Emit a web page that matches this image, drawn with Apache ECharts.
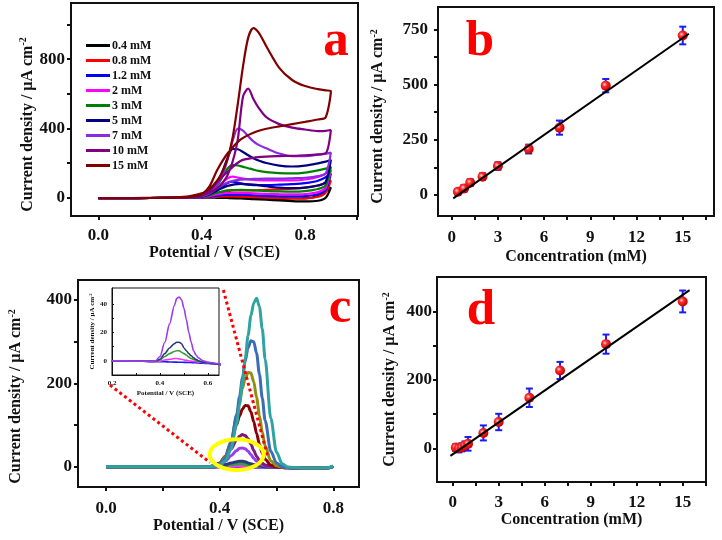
<!DOCTYPE html>
<html><head><meta charset="utf-8">
<script src="https://cdn.jsdelivr.net/npm/echarts@6/dist/echarts.min.js"></script>
<style>html,body{margin:0;padding:0;background:#fff}#c{width:722px;height:540px}</style>
</head><body><div id="c"></div>
<script>
// ================= DATA =================
// Panel a : cyclic voltammograms
const cvNames = ['0.4 mM','0.8 mM','1.2 mM','2 mM','3 mM','5 mM','7 mM','10 mM','15 mM'];
const cvColors = ['#000000','#ff0000','#0000ff','#ff00ff','#008000','#000080','#8a2be2','#800080','#800000'];
const cvFwdX = [0, 0.1, 0.2, 0.3, 0.35, 0.4, 0.43, 0.46, 0.5, 0.55, 0.6, 0.65, 0.7, 0.75, 0.8, 0.85, 0.88, 0.9];
const cvRevX = [0.9, 0.88, 0.85, 0.8, 0.75, 0.7, 0.65, 0.62, 0.6, 0.58, 0.56, 0.54, 0.52, 0.5, 0.48, 0.46, 0.43, 0.4, 0.35, 0.3, 0.2, 0.1, 0];
const cvFwd04 = [-3,-3,-2,-2,-1,0,0,-1,-2,-4,-8,-12,-16,-20,-22,-18,0,60];
const cvFwd08 = [-3,-3,-2,-2,-1,1,3,5,7,6,3,0,-3,-5,-5,5,30,100];
const cvFwd12 = [-3,-3,-2,-2,-1,2,6,11,17,17,14,10,8,7,9,20,45,140];
const cvFwd2  = [-3,-3,-2,-1,0,3,9,19,27,28,25,22,20,19,21,32,58,160];
const cvFwd3  = [-3,-3,-2,-1,0,4,13,28,42,45,42,38,36,35,38,50,72,179];
const cvFwd5  = [-3,-3,-2,-1,1,6,19,42,68,80,75,66,58,55,58,70,92,218];
const cvFwd7  = [-3,-3,-2,-1,1,8,24,55,88,104,108,110,110,112,115,125,140,260];
const cvFwd10 = [-3,-3,-2,-1,2,12,40,90,150,212,230,237,240,242,245,250,256,391];
const cvFwd15 = [-3,-3,-2,0,4,20,65,160,255,335,375,398,412,425,438,452,465,617];
const cvRev04 = [60,35,10,-4,-5,-3,-1,0,1,3,5,7,8,8,6,4,2,1,0,-1,-2,-3,-3];
const cvRev08 = [100,85,70,58,52,48,45,43,42,42,42,42,42,38,30,20,8,3,1,0,-2,-3,-3];
const cvRev12 = [140,118,98,84,78,75,73,73,73,75,80,87,92,85,65,40,15,5,1,0,-2,-3,-3];
const cvRev2  = [160,140,120,105,100,100,100,101,103,106,110,116,121,112,85,50,20,6,1,0,-2,-3,-3];
const cvRev3  = [179,168,158,145,140,142,148,155,162,170,178,186,189,168,120,70,30,8,2,0,-2,-3,-3];
const cvRev5  = [218,208,198,185,180,185,200,215,228,245,264,280,282,230,150,85,35,10,2,0,-2,-3,-3];
const cvRev7  = [260,254,248,240,240,255,285,305,325,355,388,399,330,220,130,75,35,12,3,0,-2,-3,-3];
const cvRev10 = [391,386,385,394,405,425,465,520,570,630,585,340,210,130,85,55,28,13,3,0,-2,-3,-3];
const cvRev15 = [617,620,627,645,680,750,875,955,980,925,760,545,350,225,150,100,50,25,8,2,-1,-3,-3];
const cvFwd = [cvFwd04,cvFwd08,cvFwd12,cvFwd2,cvFwd3,cvFwd5,cvFwd7,cvFwd10,cvFwd15];
const cvRev = [cvRev04,cvRev08,cvRev12,cvRev2,cvRev3,cvRev5,cvRev7,cvRev10,cvRev15];

// Panel b : calibration (CV)
const bConc = [0.4, 0.8, 1.2, 2, 3, 5, 7, 10, 15];
const bVal  = [15, 30, 56, 83, 131, 208, 305, 495, 722];
const bErr  = [12, 15, 15, 15, 17, 20, 32, 30, 40];
const bFitX = [0.1, 15.4];
const bFitY = [-15, 730];

// Panel c : DPV
const dpvX = [0, 0.1, 0.2, 0.3, 0.36, 0.38, 0.40, 0.42, 0.44, 0.46, 0.47, 0.48, 0.49, 0.50, 0.51, 0.52, 0.53, 0.54, 0.55, 0.56, 0.58, 0.60, 0.62, 0.64, 0.66, 0.70, 0.75, 0.78, 0.80];
const dpvBlue    = [0,0,0,-0.3,-0.5,-0.6,-0.7,-0.8,-0.9,-1,-1,-1.1,-1.1,-1.2,-1.2,-1.3,-1.3,-1.4,-1.5,-1.6,-1.8,-2,-2.2,-2.5,-2.8,-3,-3,-2.5,1];
const dpvMagenta = [0,0,0,-0.3,-0.5,-0.5,-0.3,0.5,1,1.5,1.5,1.2,1,0.5,0.2,0,-0.3,-0.5,-0.7,-1,-1.3,-1.6,-2,-2.4,-2.8,-3,-3,-2.5,1];
const dpvGreen   = [0,0,0,-0.3,-0.5,-0.5,0.5,3,5,6.5,7,7,6,5,4,2.5,1.5,1,0,-0.5,-1,-1.5,-2,-2.5,-3,-3,-3,-2.5,1];
const dpvNavy    = [0,0,0,-0.3,-0.5,-0.5,1,5,9,12,13,13,12,9,7,5,3.5,2,1,0,-1,-1.5,-2,-2.5,-3,-3.5,-3,-2.5,1];
const dpvViolet  = [0,0,0,-0.3,-0.5,-0.5,3,13,26,39,44,45,43,37,29,20,13,7,4,2,0,-1,-1.5,-2,-2.5,-3,-3,-2.5,1];
const dpvPurple  = [0,0,0,-0.3,-0.5,2,8,21,42,65,73,77,75,67,54,39,25,15,8,4,1,-1,-1.5,-2,-2.5,-3,-3,-2.5,1];
const dpvDarkRed = [0,0,0,-0.3,-0.5,2.4,9,25,58,101,122,138,147,146,132,108,80,54,33,18,4,0,-1.5,-2,-2.5,-3,-3,-2.5,1];
const dpvOlive   = [0,0,0,-0.3,-0.5,2,7,24,61,121,156,188,212,226,225,204,166,123,83,50,14,2,-1,-2,-2.5,-3,-3,-2.5,1];
const dpvSteel   = [0,0,0,-0.3,-0.5,1.4,6,21,58,125,168,212,253,285,302,300,272,222,165,111,37,9,0,-2,-2.5,-3,-3,-2.5,1];
const dpvTeal    = [0,0,0,-0.3,-0.5,1,4,14,42,103,149,202,259,315,362,393,404,384,331,258,116,35,7,-1,-2,-3,-3,-2.5,2];
const dpvCurves = [dpvBlue,dpvMagenta,dpvGreen,dpvNavy,dpvViolet,dpvPurple,dpvDarkRed,dpvOlive,dpvSteel,dpvTeal];
const dpvColors = ['#1a1aff','#ff33ff','#33a033','#2b3a80','#9a3cf0','#7d1a7d','#8b0000','#8f8f10','#3a6db5','#2ea3a0'];
const insetCurves = [dpvBlue,dpvMagenta,dpvGreen,dpvNavy,dpvViolet];
const insetColors = ['#1a1aff','#ff33ff','#33a033','#2b3a80','#9a3cf0'];
const zoomLine1 = [[0.014, 196], [0.366, 10]];
const zoomLine2 = [[0.413, 424], [0.57, 22]];
const zoomEllipse = [0.46, 29, 0.095, 37];

// Panel d : calibration (DPV)
const dConc = [0.2, 0.4, 0.6, 0.8, 1, 2, 3, 5, 7, 10, 15];
const dVal  = [2, 0, 3, 8, 13, 45, 77, 148, 228, 305, 430];
const dErr  = [10, 12, 12, 12, 20, 22, 24, 27, 25, 28, 32];
const dFitX = [-0.15, 15.45];
const dFitY = [-22, 463];

// Tick values
const aXTicks = [0, 0.2, 0.4, 0.6, 0.8, 1.0], aXLabels = [0, 0.4, 0.8];
const aYTicks = [0, 200, 400, 600, 800, 1000], aYLabels = [0, 400, 800];
const bXTicks = [0, 1.5, 3, 4.5, 6, 7.5, 9, 10.5, 12, 13.5, 15, 16.5], bXLabels = [0, 3, 6, 9, 12, 15];
const bYTicks = [0, 125, 250, 375, 500, 625, 750], bYLabels = [0, 250, 500, 750];
const cXTicks = [0, 0.2, 0.4, 0.6, 0.8], cXLabels = [0, 0.4, 0.8];
const cYTicks = [0, 100, 200, 300, 400], cYLabels = [0, 200, 400];
const dXTicks = [0, 1.5, 3, 4.5, 6, 7.5, 9, 10.5, 12, 13.5, 15, 16.5], dXLabels = [0, 3, 6, 9, 12, 15];
const dYTicks = [0, 100, 200, 300, 400], dYLabels = [0, 200, 400];
const iXTicks = [0.2, 0.3, 0.4, 0.5, 0.6], iXLabels = [0.2, 0.4, 0.6];
const iYTicks = [0, 10, 20, 30, 40], iYLabels = [0, 20, 40];

// ================= CHART =================
const FONT = "'Liberation Serif','Times New Roman',serif";
const INK = '#111';
const yTitle = '{t|Current density / μA cm}{s|-2}';
const fix1 = v => Number(v).toFixed(1);

function axis(grid, min, max, ticks, labels, o) {
  const nfs = o.nfs || 16;
  return {
    type: 'value', gridIndex: grid, min: min, max: max,
    axisLine: { show: true, onZero: false, lineStyle: { color: INK, width: o.lw || 2 } },
    axisTick: { show: true, inside: !!o.inside, length: o.tl || 4, customValues: ticks, lineStyle: { color: INK, width: o.lw || 2 } },
    axisLabel: { show: true, customValues: labels, margin: o.margin, fontFamily: FONT, fontWeight: 'bold',
      fontSize: o.fs || 17, color: INK, formatter: o.fmt },
    splitLine: { show: false },
    name: o.name, nameLocation: 'middle', nameGap: o.gap,
    nameTextStyle: {
      fontFamily: FONT, fontWeight: 'bold', fontSize: nfs, color: INK, padding: o.npad || 0,
      rich: {
        t: { fontFamily: FONT, fontWeight: 'bold', fontSize: nfs, color: INK, lineHeight: Math.round(nfs * 1.15) },
        s: { fontFamily: FONT, fontWeight: 'bold', fontSize: Math.round(nfs * 0.62), color: INK, verticalAlign: 'top' }
      }
    }
  };
}

function gridBox(l, t, w, h, bw, bg) {
  return { left: l, top: t, width: w, height: h, show: true, borderColor: INK, borderWidth: bw || 2,
    backgroundColor: bg || 'transparent', containLabel: false, outerBoundsMode: 'none' };
}

const grids = [
  gridBox(71, 3, 287, 213),      // a
  gridBox(438, 7, 276, 209),     // b
  gridBox(78, 280, 281, 207),    // c
  gridBox(437, 277, 269, 205),   // d
  gridBox(112, 288, 107, 87, 1, '#fff') // inset
];

const xAxes = [
  axis(0, -0.106, 1.005, aXTicks, aXLabels, { margin: 11, fmt: fix1, name: 'Potential / V (SCE)', gap: 24 }),
  axis(1, -0.89, 17.03, bXTicks, bXLabels, { margin: 13, name: 'Concentration (mM)', gap: 33 }),
  axis(2, -0.0986, 0.8905, cXTicks, cXLabels, { margin: 13, fmt: fix1, name: 'Potential / V (SCE)', gap: 31 }),
  axis(3, -1.024, 16.52, dXTicks, dXLabels, { margin: 12, name: 'Concentration (mM)', gap: 27 }),
  axis(4, 0.2, 0.646, iXTicks, iXLabels, { margin: 5, fmt: fix1, fs: 7, nfs: 7, lw: 1, tl: 2, inside: true, name: 'Potential / V (SCE)', gap: 15 })
];
const yAxes = [
  axis(0, -106, 1125, aYTicks, aYLabels, { margin: 6, name: yTitle, gap: 33, npad: [0, 30, 0, 0] }),
  axis(1, -95, 851, bYTicks, bYLabels, { margin: 10, name: yTitle, gap: 51, npad: [0, 10, 0, 0] }),
  axis(2, -48.7, 448, cYTicks, cYLabels, { margin: 6, name: yTitle, gap: 53, npad: [0, 26, 0, 0] }),
  axis(3, -98.7, 501.6, dYTicks, dYLabels, { margin: 5, name: yTitle, gap: 38 }),
  axis(4, -10.1, 51.3, iYTicks, iYLabels, { margin: 5, fs: 7, nfs: 7, lw: 1, tl: 2, inside: true, name: yTitle, gap: 14 })
];

const series = [];
// Panel a
cvNames.forEach((nm, i) => {
  const data = cvFwdX.map((x, k) => [x, cvFwd[i][k]]).concat(cvRevX.map((x, k) => [x, cvRev[i][k]]));
  series.push({ type: 'line', name: nm, xAxisIndex: 0, yAxisIndex: 0, data: data, symbol: 'none', showSymbol: false,
    smooth: 0.3, lineStyle: { color: cvColors[i], width: 2.2 }, itemStyle: { color: cvColors[i] }, z: 2 + i * 0.01 });
});

const sphere = { type: 'radial', x: 0.38, y: 0.38, r: 0.65,
  colorStops: [{ offset: 0, color: '#ffd6d6' }, { offset: 0.35, color: '#ff2a2a' }, { offset: 1, color: '#b80000' }] };

function errSeries(xi, conc, val, err) {
  return { type: 'custom', xAxisIndex: xi, yAxisIndex: xi, z: 3,
    data: conc.map((c, i) => [c, val[i], err[i]]),
    encode: { x: 0, y: 1 },
    renderItem: function (params, api) {
      const x = api.value(0), y = api.value(1), e = api.value(2);
      const t = api.coord([x, y + e]), b = api.coord([x, y - e]);
      const w = 3.5, st = { stroke: '#1c1cf0', lineWidth: 2 };
      return { type: 'group', children: [
        { type: 'line', shape: { x1: t[0], y1: t[1], x2: b[0], y2: b[1] }, style: st },
        { type: 'line', shape: { x1: t[0] - w, y1: t[1], x2: t[0] + w, y2: t[1] }, style: st },
        { type: 'line', shape: { x1: b[0] - w, y1: b[1], x2: b[0] + w, y2: b[1] }, style: st }
      ] };
    } };
}
function calib(xi, conc, val, err, fx, fy) {
  series.push(errSeries(xi, conc, val, err));
  series.push({ type: 'scatter', xAxisIndex: xi, yAxisIndex: xi, z: 4, symbol: 'circle', symbolSize: 10,
    data: conc.map((c, i) => [c, val[i]]), itemStyle: { color: sphere, opacity: 1 } });
  series.push({ type: 'line', xAxisIndex: xi, yAxisIndex: xi, z: 5, symbol: 'none', showSymbol: false,
    data: fx.map((x, i) => [x, fy[i]]), lineStyle: { color: '#000', width: 2 } });
}
calib(1, bConc, bVal, bErr, bFitX, bFitY);
calib(3, dConc, dVal, dErr, dFitX, dFitY);

// Panel c
dpvCurves.forEach((arr, i) => {
  series.push({ type: 'line', xAxisIndex: 2, yAxisIndex: 2, data: dpvX.map((x, k) => [x, arr[k]]),
    symbol: 'none', showSymbol: false, smooth: 0.3, smoothMonotone: 'x',
    lineStyle: { color: dpvColors[i], width: 3 }, z: 2 + i * 0.01 });
});
// inset
insetCurves.forEach((arr, i) => {
  series.push({ type: 'line', xAxisIndex: 4, yAxisIndex: 4, data: dpvX.map((x, k) => [x, arr[k]]),
    symbol: 'none', showSymbol: false, smooth: 0.3, smoothMonotone: 'x', clip: true,
    lineStyle: { color: insetColors[i], width: 1.6 }, z: 6 + i * 0.01 });
});
// zoom annotation
[zoomLine1, zoomLine2].forEach(l => {
  series.push({ type: 'line', xAxisIndex: 2, yAxisIndex: 2, data: l, symbol: 'none', showSymbol: false, clip: false,
    lineStyle: { color: '#ff0000', width: 3, type: [3, 3] }, z: 8 });
});
series.push({ type: 'custom', xAxisIndex: 2, yAxisIndex: 2, z: 9, clip: false,
  data: [zoomEllipse], encode: { x: 0, y: 1 },
  renderItem: function (params, api) {
    const c = api.coord([api.value(0), api.value(1)]);
    const s = api.size([api.value(2), api.value(3)]);
    return { type: 'ellipse', shape: { cx: c[0], cy: c[1], rx: s[0], ry: s[1] },
      style: { stroke: '#ffff00', fill: 'none', lineWidth: 4 } };
  } });

const letter = (t, x, y) => ({ type: 'text', x: x, y: y, z: 100,
  style: { text: t, fill: '#ff0000', fontFamily: FONT, fontWeight: 'bold', fontSize: 51, align: 'center', verticalAlign: 'middle' } });

const option = {
  animation: false,
  backgroundColor: '#ffffff',
  grid: grids,
  xAxis: xAxes,
  yAxis: yAxes,
  legend: { data: cvNames, orient: 'vertical', left: 86, top: 38, padding: 0, itemWidth: 24, itemHeight: 3, itemGap: 0,
    icon: 'rect', selectedMode: false,
    textStyle: { fontFamily: FONT, fontWeight: 'bold', fontSize: 12, color: INK, lineHeight: 15, padding: [0, 0, 0, -3] } },
  graphic: [letter('a', 336, 42), letter('b', 480, 42), letter('c', 340, 309), letter('d', 481, 311)],
  series: series
};
const chart = echarts.init(document.getElementById('c'), null, { renderer: 'canvas' });
chart.setOption(option);
</script>
</body></html>
